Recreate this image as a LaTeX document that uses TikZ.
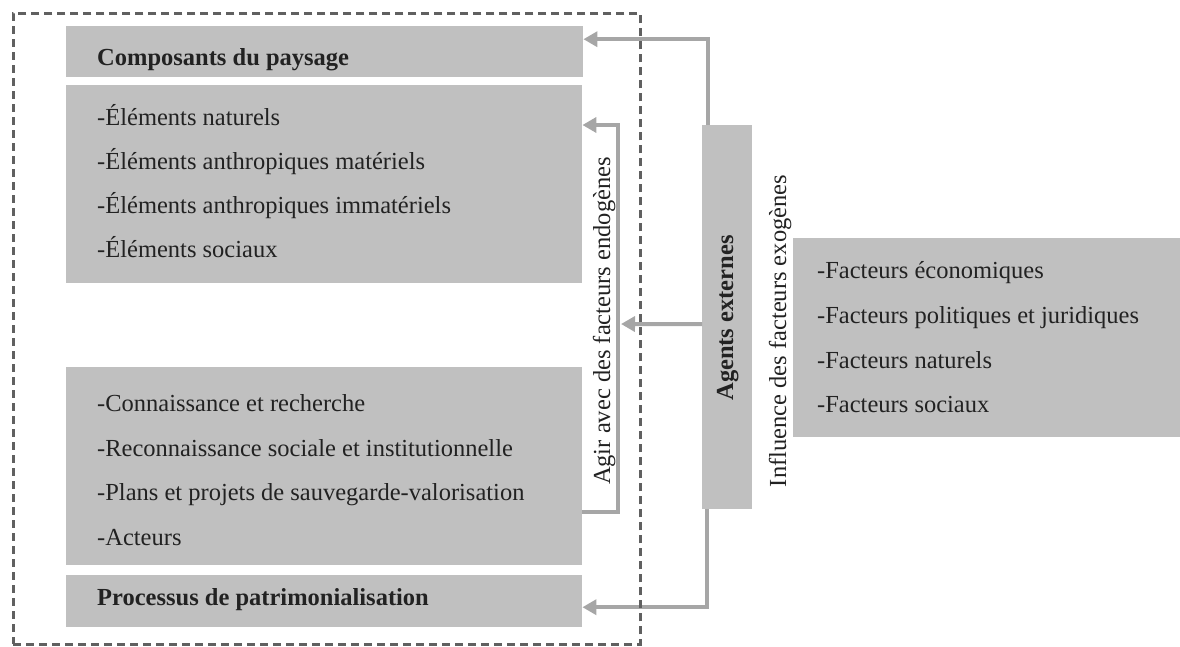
\documentclass[tikz,border=0pt]{standalone}
\usepackage{fontspec}
\setmainfont{Liberation Serif}
\usetikzlibrary{arrows.meta}
\definecolor{boxgray}{RGB}{192,192,192}
\definecolor{linegray}{RGB}{166,166,166}
\definecolor{framegray}{RGB}{96,96,96}
\definecolor{txtcol}{RGB}{34,34,34}
\tikzset{
  box/.style={fill=boxgray, draw=none, inner sep=0pt, anchor=north west},
  txt/.style={inner sep=0pt, anchor=base west, text=txtcol, font=\fontsize{24.5}{44}\selectfont},
  btxt/.style={txt, font=\fontsize{24.5}{44}\selectfont\bfseries},
  rtxt/.style={inner sep=0pt, anchor=base, rotate=90, text=txtcol, font=\fontsize{24.5}{44}\selectfont},
  conn/.style={draw=linegray, line width=4pt, -{Triangle[length=14pt,width=15pt]}},
  frame/.style={draw=framegray, line width=2.5pt, dash pattern=on 8pt off 5pt, inner sep=0pt, anchor=north west}
}
\begin{document}
\begin{tikzpicture}[x=1pt,y=-1pt]
\useasboundingbox (0,0) rectangle (1180,646);
% boxes
\node[box, minimum width=517, minimum height=51] (comp) at (66,26) {};
\node[box, minimum width=516, minimum height=198] (elem) at (66,85) {};
\node[box, minimum width=516, minimum height=198] (conn) at (66,367) {};
\node[box, minimum width=516, minimum height=52] (proc) at (66,575) {};
\node[box, minimum width=50, minimum height=384] (agents) at (702,125) {};
\node[box, minimum width=387, minimum height=199] (fact) at (793,238) {};
% texts
\node[btxt] (tcomp) at (97,65) {Composants du paysage};
\node[txt] (e1) at (97,125) {-Éléments naturels};
\node[txt] (e2) at (97,169) {-Éléments anthropiques matériels};
\node[txt] (e3) at (97,213) {-Éléments anthropiques immatériels};
\node[txt] (e4) at (97,257) {-Éléments sociaux};
\node[txt] (c1) at (97,411) {-Connaissance et recherche};
\node[txt] (c2) at (97,456) {-Reconnaissance sociale et institutionnelle};
\node[txt] (c3) at (97,500) {-Plans et projets de sauvegarde-valorisation};
\node[txt] (c4) at (97,545) {-Acteurs};
\node[btxt] (tproc) at (97,605) {Processus de patrimonialisation};
\node[txt] (f1) at (817,278) {-Facteurs économiques};
\node[txt] (f2) at (817,323) {-Facteurs politiques et juridiques};
\node[txt] (f3) at (817,368) {-Facteurs naturels};
\node[txt] (f4) at (817,412) {-Facteurs sociaux};
\node[rtxt, font=\fontsize{24.5}{44}\selectfont\bfseries] (tagents) at (733,318) {Agents externes};
\node[rtxt] (tagir) at (610,321) {Agir avec des facteurs endogènes};
\node[rtxt] (tinfl) at (786,331) {Influence des facteurs exogènes};
% connectors
\coordinate (agircorner) at (618,125);
\coordinate (agirhit) at (621,324);
\draw[conn] ([yshift=-46pt]conn.east) -| (agircorner) -- (agircorner -| elem.east);
\draw[conn] ([xshift=6pt]agents.north west) |- ([yshift=12.5pt]comp.east);
\draw[conn] ([xshift=5pt]agents.south west) |- ([yshift=-6pt]proc.east);
\draw[conn] ([yshift=-7pt]agents.west) -- (agirhit);
% frame
\node[frame, minimum width=627, minimum height=631] (fr) at (12,12) {};
\end{tikzpicture}
\end{document}
